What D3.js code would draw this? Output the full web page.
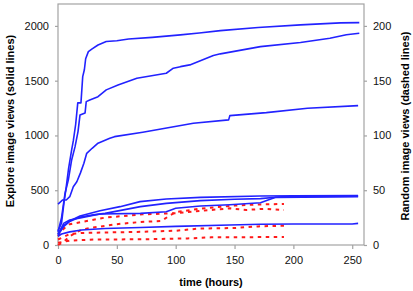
<!DOCTYPE html>
<html><head><meta charset="utf-8">
<script src="https://cdn.jsdelivr.net/npm/d3@7"></script>
<style>body{margin:0;background:#fff}svg{display:block}text{font-family:"Liberation Sans",Arial,sans-serif}</style>
</head><body>
<svg id="c" width="413" height="291"></svg>
<script>
// Explore image views (solid lines, left axis): [hours, views]
const exploreA = [[0,130],[3,200],[5,380],[7,530],[9,700],[11.6,868],[13,950],[15,1100],[16.8,1297],[19.5,1297],[21,1537],[22.4,1600],[23.5,1700],[25.8,1765],[29,1790],[34,1826],[41,1857],[50,1865],[60,1880],[80,1895],[104,1918],[120,1935],[138,1957],[170,1985],[206,2009],[240,2028],[256,2030]];
const exploreB = [[0,120],[3,250],[6,473],[8.8,594],[11.6,776],[14.5,898],[17,1035],[18.7,1187],[23,1205],[24,1309],[27,1324],[34,1354],[41,1416],[51,1461],[67,1522],[92,1568],[98,1614],[104,1628],[112,1644],[132,1730],[138,1745],[172,1811],[206,1848],[231,1888],[245,1920],[256,1933]];
const exploreC = [[0,374],[4,411],[7,411],[10,441],[13,532],[16,578],[19,656],[22,747],[24.4,837],[29,883],[34,929],[44,974],[48,989],[72,1029],[115,1111],[145,1142],[146,1181],[177,1208],[212,1248],[255,1272]];
const exploreD = [[0,100],[5,180],[10,220],[18.7,265],[35.7,313],[52.7,350],[69.7,396],[92,420],[121,435],[172,447],[200,450],[255,452]];
const exploreE = [[0,90],[5,170],[10,215],[18,253],[30,275],[40,289],[70,350],[92,380],[121,405],[150,417],[172,423],[190,440],[255,445]];
const exploreF = [[0,100],[5,200],[10,228],[20,250],[35.7,283],[70,289],[92,304],[100,335],[121,356],[146,368],[172,386],[185,435],[255,440]];
const exploreG = [[0,80],[3,100],[10,120],[20,137],[40,150],[70,160],[100,170],[146,183],[172,189],[200,192],[250,192],[255,197]];
// Random image views (dashed lines, right axis): [hours, views]
const random1 = [[0,0],[5,3],[10,8],[20,14],[30,16],[50,19],[70,21],[88,22],[95,27],[100,30],[120,33],[150,36],[170,37],[192,37.5]];
const random2 = [[0,8],[5,15],[10,19],[20,21],[40,25],[72,28],[100,29],[120,31],[146,33.5],[160,32],[175,33],[192,32]];
const random3 = [[0,5],[10,10],[20,11],[70,12],[100,13],[120,15],[150,15.5],[170,17],[192,17.6]];
const random4 = [[0,2],[5,3],[10,4],[30,5],[70,5.2],[110,6],[130,7],[192,7.3]];

const exploreSeries = [exploreA, exploreB, exploreC, exploreD, exploreE, exploreF, exploreG];
const randomSeries = [random1, random2, random3, random4];

const xTicks = [0, 50, 100, 150, 200, 250];
const yLeftTicks = [0, 500, 1000, 1500, 2000];
const yRightTicks = [0, 50, 100, 150, 200];

const svg = d3.select("#c");
const L = 58, R = 364, T = 4, B = 245;
const x = d3.scaleLinear().domain([0, 260]).range([L, R]);
const yL = d3.scaleLinear().domain([0, 2200]).range([B, T]);
const yR = d3.scaleLinear().domain([0, 220]).range([B, T]);
const grey = "#a3a3a3";
const fmt = d3.format("d");

// frame
svg.append("rect").attr("x", L).attr("y", T).attr("width", R - L).attr("height", B - T)
  .attr("fill", "none").attr("stroke", grey).attr("stroke-width", 1.2);

function styleAxis(g) {
  g.select(".domain").remove();
  g.selectAll(".tick line").attr("stroke", grey).attr("stroke-width", 1.2);
  g.selectAll(".tick text").attr("fill", "#111").style("font-size", "11px")
    .style("font-family", "'Liberation Sans', Arial, sans-serif");
}
svg.append("g").attr("transform", `translate(0,${B})`)
  .call(d3.axisBottom(x).tickValues(xTicks).tickFormat(fmt).tickSize(4).tickPadding(7))
  .call(styleAxis);
svg.append("g").attr("transform", `translate(${L},0)`)
  .call(d3.axisLeft(yL).tickValues(yLeftTicks).tickFormat(fmt).tickSize(3).tickPadding(6))
  .call(styleAxis);
svg.append("g").attr("transform", `translate(${R},0)`)
  .call(d3.axisRight(yR).tickValues(yRightTicks).tickFormat(fmt).tickSize(3).tickPadding(6))
  .call(styleAxis);

const lineL = d3.line().x(d => x(d[0])).y(d => yL(d[1]));
const lineR = d3.line().x(d => x(d[0])).y(d => yR(d[1]));

svg.append("g").selectAll("path").data(randomSeries).join("path")
  .attr("d", lineR).attr("fill", "none").attr("stroke", "#ff1a1a")
  .attr("stroke-width", 2).attr("stroke-dasharray", "3.5,4.5");
svg.append("g").selectAll("path").data(exploreSeries).join("path")
  .attr("d", lineL).attr("fill", "none").attr("stroke", "#2222ff")
  .attr("stroke-width", 1.6).attr("stroke-linejoin", "round");

// titles
svg.append("text").attr("x", 211).attr("y", 286).attr("text-anchor", "middle")
  .style("font-size", "11px").style("font-weight", "bold").text("time (hours)");
svg.append("text").attr("transform", "translate(14,121) rotate(-90)").attr("text-anchor", "middle")
  .style("font-size", "11px").style("font-weight", "bold").text("Explore image views (solid lines)");
svg.append("text").attr("transform", "translate(409,126) rotate(-90)").attr("text-anchor", "middle")
  .style("font-size", "11px").style("font-weight", "bold").text("Random image views (dashed lines)");
</script>
</body></html>
